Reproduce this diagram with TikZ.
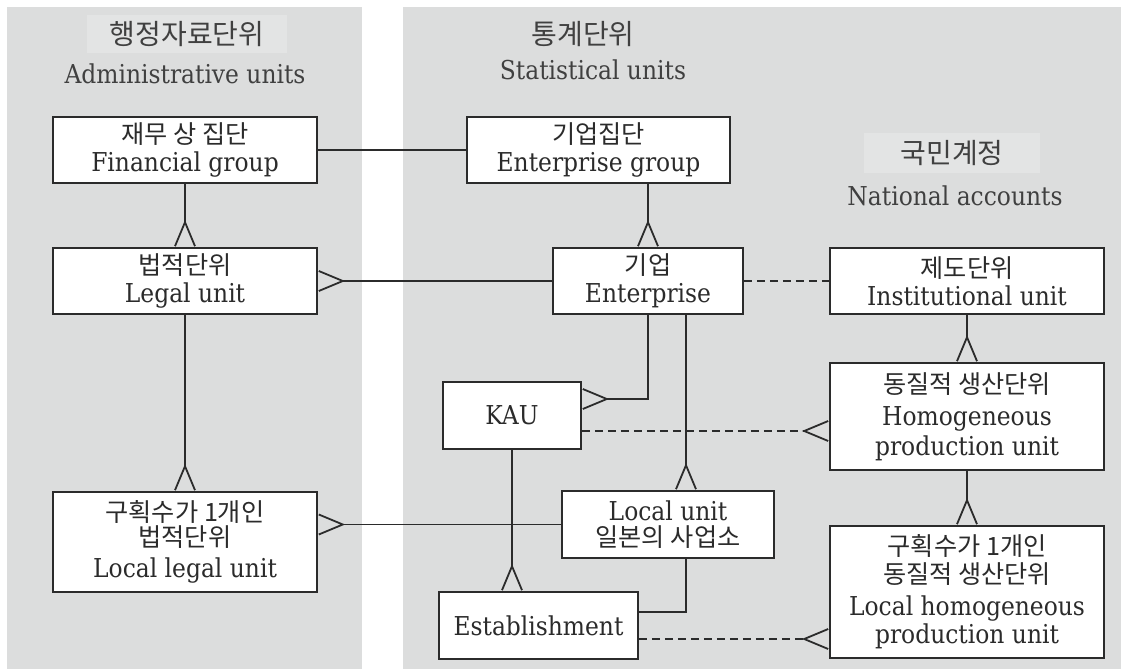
\documentclass[tikz,border=0pt]{standalone}
\usepackage{fontspec}
\setmainfont{DejaVu Serif Condensed}
\newfontfamily\kr{Noto Sans CJK KR}
\usetikzlibrary{arrows.meta}

\definecolor{panel}{HTML}{DCDDDD}
\definecolor{panellight}{HTML}{E3E4E4}
\definecolor{ink}{HTML}{2B2B2B}

\tikzset{
  unit/.style={draw=ink, line width=0.9pt, fill=white, inner sep=0pt, align=center,
    text=ink, font=\fontsize{13}{15}\selectfont},
  link/.style={draw=ink, line width=0.9pt},
  weak/.style={link, dash pattern=on 4pt off 2.5pt},
  many/.style={-{Straight Barb[reversed, length=12pt, width=10pt]}},
  title/.style={text=ink!90, font=\fontsize{13}{15}\selectfont},
  ktitle/.style={text=ink!90, font=\kr\fontsize{14}{16}\selectfont, inner sep=0pt}
}
\newcommand{\ko}[1]{{\kr\fontsize{12.6}{13.5}\selectfont #1}}

\begin{document}
\begin{tikzpicture}[x=0.5pt, y=-0.5pt]
\useasboundingbox (0,0) rectangle (1121,669);

% panels
\fill[panel] (7,7) rectangle (362,669);
\fill[panel] (403,7) rectangle (1121,669);

% titles
\node[ktitle, fill=panellight, minimum width=100pt, minimum height=19pt] (admk) at (187,34) {행정자료단위};
\node[title] (adme) at (185,74) {Administrative units};
\node[ktitle] (statk) at (583,34) {통계단위};
\node[title] (state) at (593,70) {Statistical units};
\node[ktitle, fill=panellight, minimum width=88pt, minimum height=20pt] (natk) at (952,153) {국민계정};
\node[title] (nate) at (955,196) {National accounts};

% units
\node[unit, minimum width=132pt, minimum height=33pt] (fin) at (185,150) {\ko{재무 상 집단}\\[-1pt]Financial group};
\node[unit, minimum width=132pt, minimum height=33pt] (legal) at (185,281) {\ko{법적단위}\\[-1pt]Legal unit};
\node[unit, minimum width=132pt, minimum height=50pt] (lleg) at (185,542) {\ko{구획수가 1개인}\\[-2.5pt]\ko{법적단위}\\[0.5pt]Local legal unit};
\node[unit, minimum width=131.5pt, minimum height=33pt] (entgrp) at (598.5,150) {\ko{기업집단}\\[-1pt]Enterprise group};
\node[unit, minimum width=95pt, minimum height=33pt] (ent) at (648,281) {\ko{기업}\\[-1pt]Enterprise};
\node[unit, minimum width=69pt, minimum height=33.5pt] (kau) at (512,415.5) {KAU};
\node[unit, minimum width=106pt, minimum height=33.5pt] (loc) at (668,524.5) {Local unit\\[-2pt]\ko{일본의 사업소}};
\node[unit, minimum width=99.5pt, minimum height=33.5pt] (est) at (538.5,625.5) {Establishment};
\node[unit, minimum width=137pt, minimum height=33pt] (inst) at (967,281) {\ko{제도단위}\\[-1pt]Institutional unit};
\node[unit, minimum width=137pt, minimum height=53.5pt] (hom) at (967,416.5) {\ko{동질적 생산단위}\\[1pt]Homogeneous\\production unit};
\node[unit, minimum width=137pt, minimum height=66pt] (lhom) at (967,592) {\ko{구획수가 1개인}\\[-1pt]\ko{동질적 생산단위}\\[1pt]Local homogeneous\\[-1pt]production unit};

% relations
\draw[link] (fin) -- (entgrp);
\draw[link, many] (fin) -- (legal);
\draw[link, many] (ent) -- (legal);
\draw[link, many] (entgrp.south -| ent.north) -- (ent.north);
\draw[weak] (ent) -- (inst);
\draw[link, many] (inst) -- (hom);
\draw[link, many] (hom) -- (lhom);
\draw[link, many] (legal) -- (lleg);
\draw[link, many] (loc.west) -- (loc.west -| lleg.east);
\draw[link, many] (ent.south) |- ([yshift=8.25pt]kau.east);
\draw[link, many] ([xshift=19pt]ent.south) -- ([xshift=19pt]ent.south |- loc.north);
\draw[weak, many] ([yshift=-7.75pt]kau.east) -- ([yshift=-7.75pt]kau.east -| hom.west);
\draw[link, many] (kau.south) -- (kau.south |- est.north);
\draw[link] ([xshift=9pt]loc.south) |- ([yshift=6.75pt]est.east);
\draw[weak, many] ([yshift=-6.75pt]est.east) -- ([yshift=-6.75pt]est.east -| lhom.west);
\end{tikzpicture}
\end{document}
